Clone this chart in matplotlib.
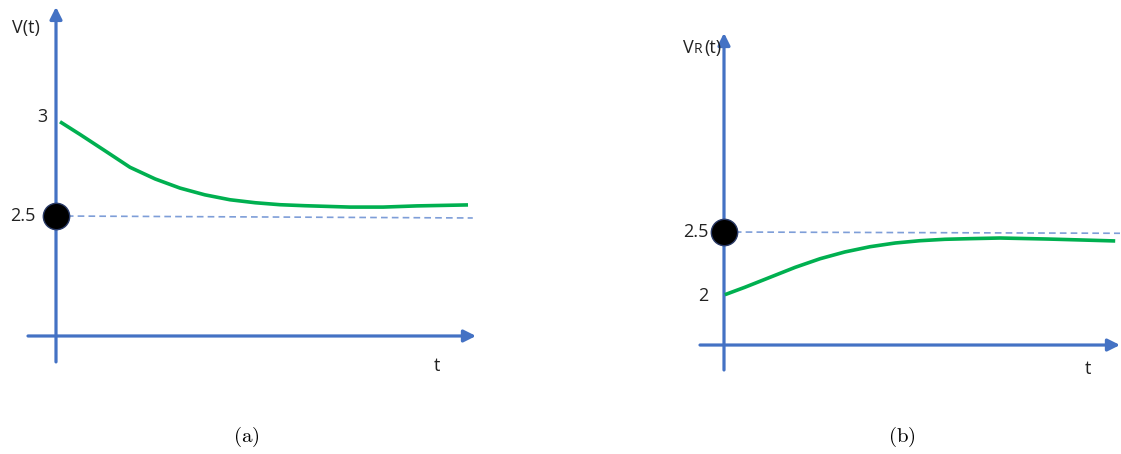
"""Two schematic step-response sketches: V(t) decaying to 2.5 and VR(t) rising to 2.5."""
import matplotlib
matplotlib.use("Agg")
import matplotlib.pyplot as plt

# ---------------------------------------------------------------------------
# Data (t in arbitrary units, voltages in V)
# ---------------------------------------------------------------------------
T_A = [0.05, 0.30, 0.61, 0.925, 1.24, 1.55, 1.86, 2.175, 2.49, 2.8, 3.11,
       3.675, 4.09, 4.51, 5.15]
V_A = [2.976, 2.912, 2.830, 2.746, 2.687, 2.641, 2.607, 2.582, 2.567, 2.557,
       2.552, 2.545, 2.545, 2.551, 2.556]

T_B = [0.01, 0.26, 0.575, 0.89, 1.2, 1.51, 1.825, 2.14, 2.45, 2.76, 3.075,
       3.45, 4.05, 4.475, 4.89]
V_B = [2.010, 2.068, 2.146, 2.224, 2.291, 2.344, 2.385, 2.414, 2.432, 2.443,
       2.448, 2.453, 2.445, 2.4375, 2.43]

V_FINAL = 2.5
TICKS_A = [(3.0, "3"), (2.5, "2.5")]
TICKS_B = [(2.5, "2.5"), (2.0, "2")]

AXIS_BLUE = "#4472C4"
DASH_BLUE = "#7E9ED8"
GREEN = "#00B050"
TXT = "#222222"
FONT = "Open Sans"
FS = 13

fig = plt.figure(figsize=(11.21, 4.54), dpi=100)
W, H = 1121, 454


def add_panel(x0, x1, tlim, vlim):
    ax = fig.add_axes([x0 / W, (H - 400) / H, (x1 - x0) / W, 400 / H])
    ax.set_xlim(*tlim)
    ax.set_ylim(*vlim)
    ax.axis("off")
    return ax


def arrow(ax, tail, tip):
    ax.annotate("", xy=tip, xytext=tail,
                arrowprops=dict(arrowstyle="-|>", color=AXIS_BLUE, lw=2.3,
                                mutation_scale=18, shrinkA=0, shrinkB=0),
                annotation_clip=False)


def draw(ax, t, v, ticks, haxis, vaxis, t_end, tick_x, tlabel_pos):
    arrow(ax, (haxis[0], haxis[2]), (haxis[1], haxis[2]))
    arrow(ax, (0, vaxis[0]), (0, vaxis[1]))
    ax.plot([0, t_end], [V_FINAL, V_FINAL - 0.01], color=DASH_BLUE, lw=1.2,
            dashes=(4, 2.5), zorder=2)
    ax.plot(t, v, color=GREEN, lw=2.6, solid_capstyle="butt",
            solid_joinstyle="round", zorder=3)
    ax.plot([0], [V_FINAL], marker="o", ms=19, mfc="black", mec="#2a3a66",
            mew=1.0, zorder=5, clip_on=False)
    for val, lab in ticks:
        ax.text(tick_x[lab], val, lab, ha="right", va="center", fontsize=FS,
                color=TXT, family=FONT)
    ax.text(*tlabel_pos, "t", ha="center", va="center", fontsize=FS,
            color=TXT, family=FONT)


# (a) left panel: x = 56 + 80 t px, y = 216 - 198 (V - 2.5) px
ax_a = add_panel(0, 540, (-0.7, 6.05), (1.5707, 3.5909))
draw(ax_a, T_A, V_A, TICKS_A, haxis=(-0.35, 5.25, 1.894), vaxis=(1.763, 3.556),
     t_end=5.21, tick_x={"3": -0.1, "2.5": -0.25}, tlabel_pos=(4.76, 1.742))
ax_a.text(-0.375, 3.449, "V(t)", ha="center", va="center", fontsize=FS,
          color=TXT, family=FONT)

# (b) right panel: x = 724 + 80 t px, y = 232 - 128 (V - 2.5) px
ax_b = add_panel(560, 1121, (-2.05, 4.9625), (1.1875, 4.3125))
draw(ax_b, T_B, V_B, TICKS_B, haxis=(-0.3, 4.95, 1.617), vaxis=(1.422, 4.055),
     t_end=4.95, tick_x={"2.5": -0.2, "2": -0.2}, tlabel_pos=(4.55, 1.43))
ax_b.text(-0.45, 3.94, "V", ha="center", va="center", fontsize=FS,
          color=TXT, family=FONT)
ax_b.text(-0.325, 3.925, "R", ha="center", va="center", fontsize=10,
          color=TXT, family=FONT)
ax_b.text(-0.135, 3.94, "(t)", ha="center", va="center", fontsize=FS,
          color=TXT, family=FONT)

# captions
plt.rcParams["mathtext.fontset"] = "cm"
fig.text(246 / W, 1 - 437 / H, r"$\mathrm{(a)}$", ha="center", va="center", fontsize=15)
fig.text(902 / W, 1 - 437 / H, r"$\mathrm{(b)}$", ha="center", va="center", fontsize=15)

fig.savefig("out.png", dpi=100)
